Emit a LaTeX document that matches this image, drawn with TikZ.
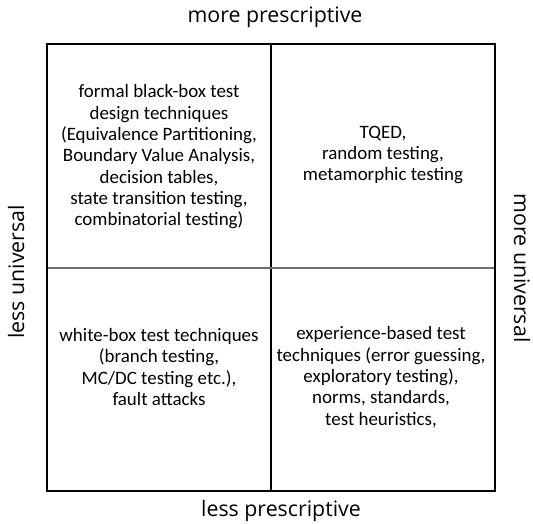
\documentclass[tikz,border=0pt]{standalone}
\usepackage{xcolor}
\usepackage{fontspec}
\setmainfont{Carlito}
\newfontfamily\axisfont{Open Sans}
\usepackage{tikz}
\usetikzlibrary{positioning}
\definecolor{DividerGray}{RGB}{110,110,110}

\begin{document}
\begin{tikzpicture}[
 x=0.75pt, y=-0.75pt,
 quad/.style={align=center, font=\fontsize{14.2}{16}\selectfont},
 axis/.style={font=\axisfont\fontsize{16}{19}\selectfont},
 frame/.style={draw, line width=1.5pt},
 divider/.style={line width=0.8pt}
]
\useasboundingbox (0,0) rectangle (533,524);

% quadrant grid
\coordinate (nw) at (47,44);
\coordinate (se) at (495,491);
\coordinate (mid) at (271,268);
\draw[divider] (mid |- nw) -- (mid |- se);
\draw[divider, DividerGray] (mid -| nw) -- (mid -| se);
\draw[frame] (nw) rectangle (se);

% quadrant contents
\node[quad] (formal) at (159,157) {formal black-box test\\design techniques\\(Equivalence Partitioning,\\Boundary Value Analysis,\\decision tables,\\state transition testing,\\combinatorial testing)};
\node[quad] (tqed) at (383,155) {TQED,\\random testing,\\metamorphic testing};
\node[quad] (whitebox) at (159,367) {white-box test techniques\\(branch testing,\\MC/DC testing etc.),\\fault attacks};
\node[quad] (experience) at (381,377) {experience-based test\\techniques (error guessing,\\exploratory testing),\\norms, standards,\\test heuristics,};

% axis labels
\node[axis] (moreprescr) at (275,17) {more prescriptive};
\node[axis] (lessprescr) at (281,511) {less prescriptive};
\node[axis, rotate=90] (lessuniv) at (16,272) {less universal};
\node[axis, rotate=-90] (moreuniv) at (522,268) {more universal};
\end{tikzpicture}
\end{document}
